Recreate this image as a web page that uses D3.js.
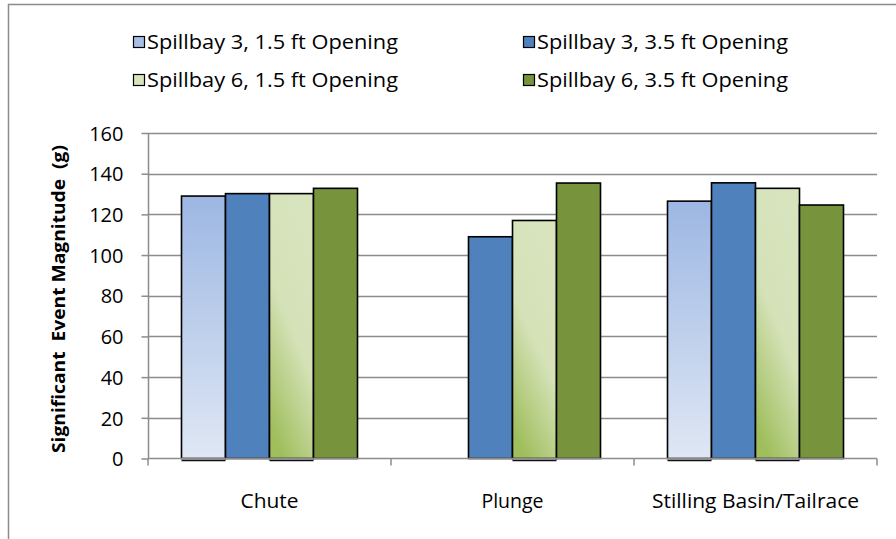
<!DOCTYPE html>
<html><head><meta charset="utf-8">
<script src="https://cdn.jsdelivr.net/npm/d3@7"></script>
<style>body{margin:0;background:#fff}svg{display:block}text{font-family:"Open Sans",Lato,sans-serif;fill:#000}</style>
</head><body><svg id="c" width="896" height="539"></svg>
<script>
const categories = ["Chute", "Plunge", "Stilling Basin/Tailrace"];
const seriesNames = ["Spillbay 3, 1.5 ft Opening", "Spillbay 3, 3.5 ft Opening", "Spillbay 6, 1.5 ft Opening", "Spillbay 6, 3.5 ft Opening"];
const sb3_15 = [129, null, 126.5];
const sb3_35 = [130.2, 109, 135.5];
const sb6_15 = [130.2, 117, 132.8];
const sb6_35 = [132.8, 135.4, 124.6];
const yTicks = [0, 20, 40, 60, 80, 100, 120, 140, 160];
const yTitle = "Significant  Event Magnitude  (g)";

const seriesValues = [sb3_15, sb3_35, sb6_15, sb6_35];
const fills = ["url(#gLB)", "#4F81BD", "url(#gLG)", "#77933C"];
const swatch = ["#A7BFE6", "#4F81BD", "#D7E4BD", "#77933C"];

const svg = d3.select("#c");
const defs = svg.append("defs");
const gLB = defs.append("linearGradient").attr("id","gLB").attr("x1",0).attr("y1",0).attr("x2",0).attr("y2",1);
gLB.append("stop").attr("offset",0).attr("stop-color","#9DB7E3");
gLB.append("stop").attr("offset",1).attr("stop-color","#DFE7F4");
const gLG = defs.append("linearGradient").attr("id","gLG").attr("x1",0.7).attr("y1",0).attr("x2",0.3).attr("y2",1);
gLG.append("stop").attr("offset",0).attr("stop-color","#D8E4BE");
gLG.append("stop").attr("offset",0.5).attr("stop-color","#D5E2B8");
gLG.append("stop").attr("offset",1).attr("stop-color","#9FBE5C");

function fit(sel, target) {
  sel.each(function(){
    const w = this.getComputedTextLength();
    if (Math.abs(w - target) > 1) d3.select(this).attr("textLength", target).attr("lengthAdjust","spacingAndGlyphs");
  });
}

// outer frame
svg.append("path").attr("d","M8.5,560 L8.5,4.5 L900,4.5").attr("fill","none").attr("stroke","#8c8c8c").attr("stroke-width",1.5);

const x = d3.scaleBand().domain(categories).range([148, 877]);
const y = d3.scaleLinear().domain([0, 160]).range([458.5, 133]);
const groupW = 176;
const xs = d3.scaleBand().domain(d3.range(4)).range([(x.bandwidth()-groupW)/2, (x.bandwidth()+groupW)/2]);

// gridlines
svg.append("g").selectAll("line").data(yTicks.filter(t=>t>0)).join("line")
  .attr("x1",148).attr("x2",877).attr("y1",d=>Math.round(y(d))+0.5).attr("y2",d=>Math.round(y(d))+0.5)
  .attr("stroke","#8c8c8c").attr("stroke-width",1.5);

// y axis
const yAxis = svg.append("g").attr("transform","translate(148.5,0)")
  .call(d3.axisLeft(y).tickValues(yTicks).tickSize(7).tickPadding(18).tickFormat(d3.format("d")));
yAxis.select(".domain").attr("stroke","#8c8c8c").attr("stroke-width",1.5).attr("d",`M0,${y(160)}V${y(0)}`);
yAxis.selectAll(".tick line").attr("stroke","#8c8c8c").attr("stroke-width",1.5);
yAxis.selectAll(".tick text").attr("font-size",20).attr("font-family","'Open Sans'").attr("fill","#000").attr("dy","0.36em");

// bars
categories.forEach((c,ci)=>{
  seriesValues.forEach((vals,si)=>{
    const v = vals[ci];
    if (v == null) return;
    const bx = x(c) + xs(si);
    svg.append("rect").attr("x",bx).attr("y",y(v)).attr("width",xs.bandwidth()).attr("height",y(0)-y(v))
      .attr("fill",fills[si]).attr("stroke","#000").attr("stroke-width",1.6);
    if (si===0 || si===2) {
      svg.append("line").attr("x1",bx).attr("x2",bx+xs.bandwidth()).attr("y1",y(0)+2).attr("y2",y(0)+2)
        .attr("stroke","#111").attr("stroke-width",1.6);
    }
  });
});

// x axis
const xAxisG = svg.append("g").attr("transform",`translate(0,${y(0)})`);
xAxisG.append("line").attr("x1",148).attr("x2",877).attr("stroke","#8c8c8c").attr("stroke-width",1.6);
xAxisG.selectAll("line.t").data([148, 148+x.bandwidth(), 148+2*x.bandwidth(), 877]).join("line").attr("class","t")
  .attr("x1",d=>d).attr("x2",d=>d).attr("y1",0).attr("y2",7).attr("stroke","#8c8c8c").attr("stroke-width",1.5);
const catTargets = [58, 62, 207];
xAxisG.selectAll("text").data(categories).join("text")
  .attr("x",d=>x(d)+x.bandwidth()/2).attr("y",49).attr("text-anchor","middle").attr("font-size",19.5).text(d=>d)
  .each(function(d,i){ fit(d3.select(this), catTargets[i]); });

// y title
const tt = svg.append("text").attr("transform","translate(65,299) rotate(-90)").attr("text-anchor","middle")
  .attr("font-size",18).attr("font-weight","bold").style("white-space","pre").text(yTitle);
fit(tt, 308);

// legend
const legPos = [[133,36],[523,36],[133,74],[523,74]];
seriesNames.forEach((n,i)=>{
  const [lx,ly] = legPos[i];
  svg.append("rect").attr("x",lx+0.5).attr("y",ly+0.5).attr("width",11).attr("height",11)
    .attr("fill",swatch[i]).attr("stroke","#000").attr("stroke-width",1.2);
  const t = svg.append("text").attr("x",lx+14).attr("y",ly+12.5).attr("font-size",20).text(n);
  fit(t, 251);
});
</script></body></html>
